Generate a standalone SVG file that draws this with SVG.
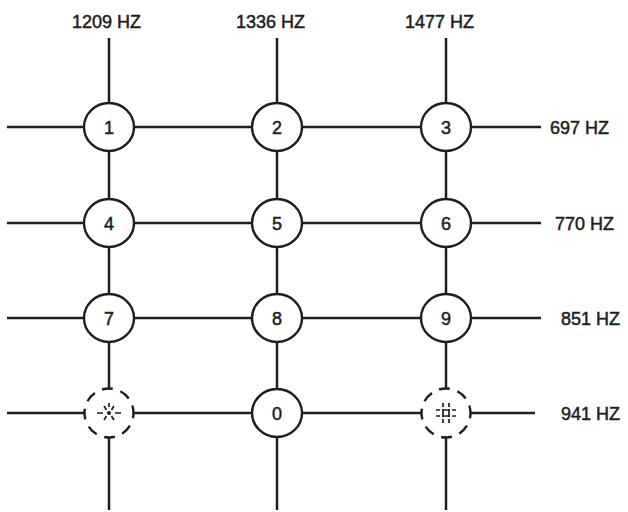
<svg xmlns="http://www.w3.org/2000/svg" width="628" height="512" viewBox="0 0 628 512">
<style>
.ln{stroke:#1e1e1e;stroke-width:2.5;fill:none}
.btn{fill:#fff;stroke:#1e1e1e;stroke-width:2.4}
.dbtn{fill:#fff;stroke:#1e1e1e;stroke-width:2.4;stroke-dasharray:11 7.85;stroke-dashoffset:5.5}
.lbl{font-family:"Liberation Sans",Arial,sans-serif;font-size:18px;fill:#1e1e1e;stroke:#1e1e1e;stroke-width:0.5}
.num{font-family:"Liberation Sans",Arial,sans-serif;font-size:18px;fill:#1e1e1e;stroke:#1e1e1e;stroke-width:0.5;text-anchor:middle}
.sym{stroke:#1e1e1e;stroke-width:1.7;fill:none}
</style>
<rect width="628" height="512" fill="#fff"/>
<g id="connectors">
<line class="ln" x1="109" y1="38" x2="109" y2="510"/>
<line class="ln" x1="277" y1="38" x2="277" y2="510"/>
<line class="ln" x1="446" y1="38" x2="446" y2="510"/>
<line class="ln" x1="7" y1="127" x2="541" y2="127"/>
<line class="ln" x1="7" y1="223" x2="541" y2="223"/>
<line class="ln" x1="7" y1="318" x2="541" y2="318"/>
<line class="ln" x1="7" y1="413" x2="535" y2="413"/>
</g>
<g id="col-labels">
<text class="lbl" x="72" y="28">1209 HZ</text>
<text class="lbl" x="236" y="28">1336 HZ</text>
<text class="lbl" x="405" y="28">1477 HZ</text>
</g>
<g id="row-labels">
<text class="lbl" x="550" y="134">697 HZ</text>
<text class="lbl" x="555" y="230">770 HZ</text>
<text class="lbl" x="561" y="325">851 HZ</text>
<text class="lbl" x="561" y="420">941 HZ</text>
</g>
<g id="key1"><ellipse class="btn" cx="109" cy="127" rx="25" ry="24"/><text class="num" x="109" y="133.5">1</text></g>
<g id="key2"><ellipse class="btn" cx="277" cy="127" rx="25" ry="24"/><text class="num" x="277" y="133.5">2</text></g>
<g id="key3"><ellipse class="btn" cx="446" cy="127" rx="25" ry="24"/><text class="num" x="446" y="133.5">3</text></g>
<g id="key4"><ellipse class="btn" cx="109" cy="223" rx="25" ry="24"/><text class="num" x="109" y="229.5">4</text></g>
<g id="key5"><ellipse class="btn" cx="277" cy="223" rx="25" ry="24"/><text class="num" x="277" y="229.5">5</text></g>
<g id="key6"><ellipse class="btn" cx="446" cy="223" rx="25" ry="24"/><text class="num" x="446" y="229.5">6</text></g>
<g id="key7"><ellipse class="btn" cx="109" cy="318" rx="25" ry="24"/><text class="num" x="109" y="324.5">7</text></g>
<g id="key8"><ellipse class="btn" cx="277" cy="318" rx="25" ry="24"/><text class="num" x="277" y="324.5">8</text></g>
<g id="key9"><ellipse class="btn" cx="446" cy="318" rx="25" ry="24"/><text class="num" x="446" y="324.5">9</text></g>
<g id="key-star">
<circle class="dbtn" cx="109" cy="413" r="24.5"/>
<circle cx="109" cy="413" r="2" fill="#1e1e1e"/>
<path class="sym" d="M97 413h6M115 413h6M104 406l2.5 4M114 406l-2.5 4M104 420l2.5-4M114 420l-2.5-4M109 403v4"/>
</g>
<g id="key0"><ellipse class="btn" cx="277" cy="413" rx="25" ry="24"/><text class="num" x="277" y="419.5">0</text></g>
<g id="key-hash">
<circle class="dbtn" cx="446" cy="413" r="24.5"/>
<path class="sym" d="M436 410h4M442 410h8M452 410h4M436 416h4M442 416h8M452 416h4M443 403v4M443 409v8M443 419v4M449 409v8M449 403v4M449 419v4"/>
</g>
</svg>
